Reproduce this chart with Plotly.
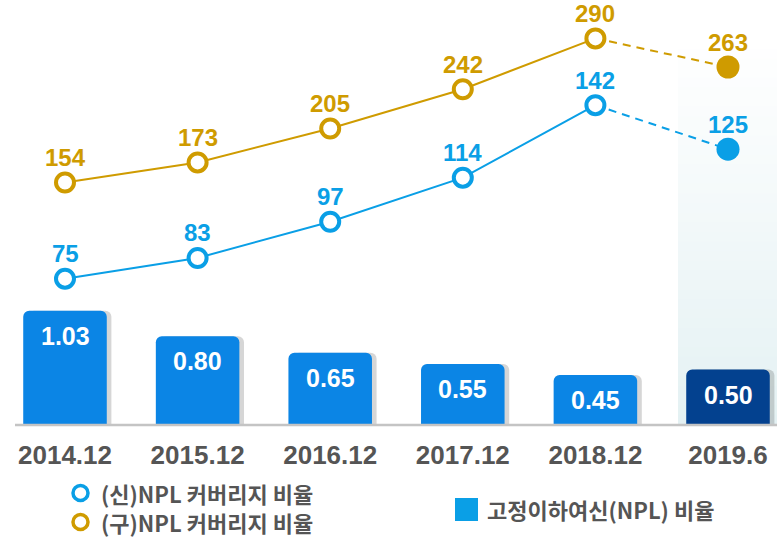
import plotly.graph_objects as go

# ---- data ----
periods = ["2014.12", "2015.12", "2016.12", "2017.12", "2018.12", "2019.6"]
npl_ratio = [1.03, 0.80, 0.65, 0.55, 0.45, 0.50]          # 고정이하여신(NPL) 비율
coverage_old = [154, 173, 205, 242, 290, 263]             # (구)NPL 커버리지 비율
coverage_new = [75, 83, 97, 114, 142, 125]                # (신)NPL 커버리지 비율

# ---- style ----
W, H = 777, 538
PLOT_H = 425
BAR_BLUE = "#0b85e5"
BAR_NAVY = "#03418f"
GOLD = "#cf9b00"
SKY = "#0a9fe6"
GREY_TXT = "#555555"
NUM_FONT = "Liberation Sans, Arial, Noto Sans CJK KR"
KR_FONT = "Noto Sans CJK KR, Liberation Sans"

x = list(range(len(periods)))
n = len(periods)
bar_w = 0.63

fig = go.Figure()

# shadow behind bars
fig.add_trace(go.Bar(
    x=x, y=npl_ratio, width=bar_w, offset=-bar_w / 2 + 0.035,
    marker=dict(color="rgba(0,0,0,0.16)", line=dict(width=0)),
    hoverinfo="skip", showlegend=False, yaxis="y",
))
# NPL ratio bars
fig.add_trace(go.Bar(
    x=x, y=npl_ratio, width=bar_w, offset=-bar_w / 2,
    marker=dict(color=[BAR_BLUE] * (n - 1) + [BAR_NAVY], line=dict(width=0)),
    showlegend=False, yaxis="y",
))


def add_coverage(values, color, axis):
    # solid line through the year-end points, dashed to the half-year point
    fig.add_trace(go.Scatter(
        x=x[:-1], y=values[:-1], mode="lines", yaxis=axis,
        line=dict(color=color, width=2), showlegend=False, hoverinfo="skip",
    ))
    fig.add_trace(go.Scatter(
        x=x[-2:], y=values[-2:], mode="lines", yaxis=axis,
        line=dict(color=color, width=2, dash="8px,6px"), showlegend=False, hoverinfo="skip",
    ))
    fig.add_trace(go.Scatter(
        x=x[:-1], y=values[:-1], mode="markers", yaxis=axis,
        marker=dict(size=18, color="white", line=dict(color=color, width=4)),
        showlegend=False,
    ))
    fig.add_trace(go.Scatter(
        x=x[-1:], y=values[-1:], mode="markers", yaxis=axis,
        marker=dict(size=23, color=color, line=dict(width=0)),
        showlegend=False,
    ))
    for xi, v in zip(x, values):
        fig.add_annotation(
            x=xi, y=v, yref=axis, text=f"<b>{v}</b>", showarrow=False,
            yshift=25, yanchor="middle",
            font=dict(family=NUM_FONT, size=24, color=color),
        )


add_coverage(coverage_old, GOLD, "y2")
add_coverage(coverage_new, SKY, "y3")

# bar value labels
for xi, v in zip(x, npl_ratio):
    fig.add_annotation(
        x=xi, y=v, yref="y", text=f"<b>{v:.2f}</b>", showarrow=False,
        yshift=-25, yanchor="middle",
        font=dict(family=NUM_FONT, size=25, color="white"),
    )

shapes = []
# soft gradient panel behind the half-year column
bands = 40
top_px, bot_px = 40, PLOT_H
for i in range(bands):
    y0 = top_px + (bot_px - top_px) * i / bands
    y1 = top_px + (bot_px - top_px) * (i + 1) / bands
    a = (i + 0.5) / bands
    r = round(255 - (255 - 228) * a)
    g = round(255 - (255 - 241) * a)
    b = round(255 - (255 - 243) * a)
    shapes.append(dict(
        type="rect", xref="paper", yref="paper", layer="below",
        x0=678 / W, x1=1, y0=(PLOT_H - y1) / PLOT_H, y1=(PLOT_H - y0) / PLOT_H + 0.002,
        fillcolor=f"rgb({r},{g},{b})", line=dict(width=0),
    ))
# baseline
shapes.append(dict(
    type="line", xref="paper", yref="paper", x0=15 / W, x1=1, y0=0, y1=0,
    line=dict(color="#c4c4c4", width=2.5), layer="above",
))


def py(px):
    return (PLOT_H - px) / PLOT_H


# legend symbols
for cy, col in [(493, SKY), (522, GOLD)]:
    shapes.append(dict(
        type="circle", xref="paper", yref="paper", xsizemode="pixel", ysizemode="pixel",
        xanchor=80.5 / W, yanchor=py(cy), x0=-7.5, x1=7.5, y0=-7.5, y1=7.5,
        fillcolor="white", line=dict(color=col, width=3.5),
    ))
shapes.append(dict(
    type="rect", xref="paper", yref="paper", xsizemode="pixel", ysizemode="pixel",
    xanchor=466.5 / W, yanchor=py(509.5), x0=-11.5, x1=11.5, y0=-11.5, y1=11.5,
    fillcolor=SKY, line=dict(width=0),
))

legend_items = [
    (99, 493, "(신)NPL 커버리지 비율"),
    (99, 522, "(구)NPL 커버리지 비율"),
    (485, 509, "고정이하여신(NPL) 비율"),
]
for lx, ly, txt in legend_items:
    fig.add_annotation(
        x=lx / W, y=py(ly), xref="paper", yref="paper", text=f"<b>{txt}</b>",
        showarrow=False, xanchor="left", yanchor="middle",
        font=dict(family=KR_FONT, size=22, color=GREY_TXT),
    )

fig.update_layout(
    width=W, height=H,
    margin=dict(l=0, r=0, t=0, b=H - PLOT_H, pad=0),
    paper_bgcolor="white", plot_bgcolor="rgba(0,0,0,0)",
    barmode="overlay", barcornerradius=6, showlegend=False,
    shapes=shapes,
    xaxis=dict(
        range=[-65 / 132.6, (W - 65) / 132.6], tickvals=x,
        ticktext=[f"<b>{p}</b>" for p in periods],
        tickfont=dict(family=NUM_FONT, size=26, color=GREY_TXT),
        showgrid=False, zeroline=False, showline=False, ticks="",
        ticklabelstandoff=12, fixedrange=True,
    ),
    yaxis=dict(range=[0, PLOT_H / 111], visible=False, fixedrange=True),
    yaxis2=dict(range=[-74.7, 326.2], overlaying="y", visible=False, fixedrange=True),
    yaxis3=dict(range=[18.5, 182.6], overlaying="y", visible=False, fixedrange=True),
)

fig.write_html("out.html")
